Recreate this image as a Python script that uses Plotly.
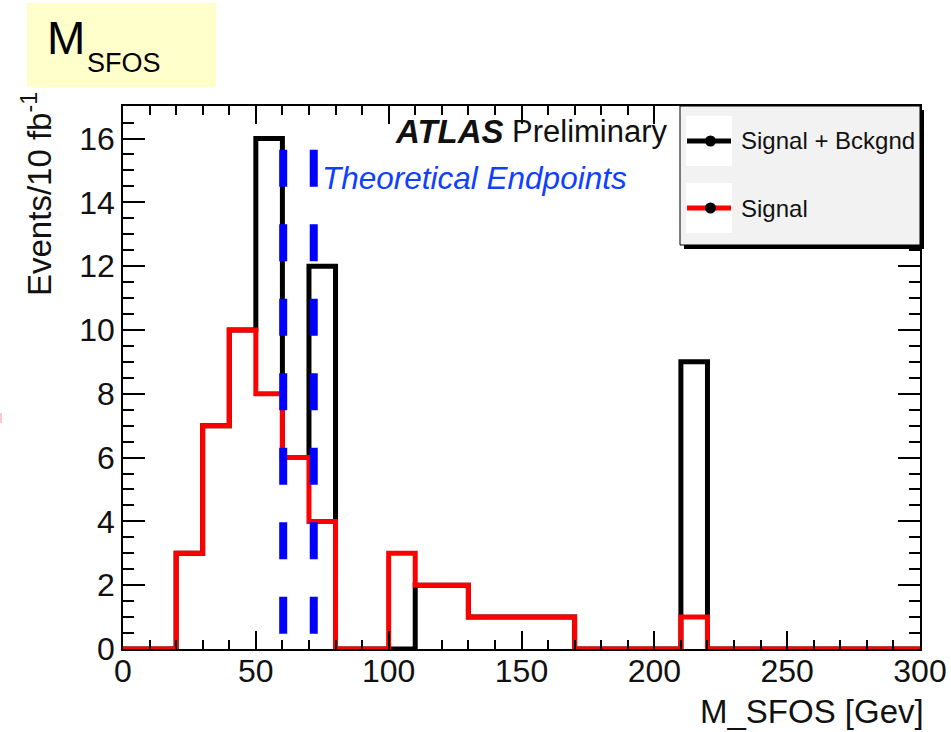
import plotly.graph_objects as go

# ---------------- data ----------------
bin_edges = list(range(0, 310, 10))
signal_bkg = [0, 0, 3, 7, 10, 16, 6, 12, 0, 0, 0, 2, 2, 1, 1, 1, 1, 0, 0, 0,
              0, 9, 0, 0, 0, 0, 0, 0, 0, 0]
signal = [0, 0, 3, 7, 10, 8, 6, 4, 0, 0, 3, 2, 2, 1, 1, 1, 1, 0, 0, 0,
          0, 1, 0, 0, 0, 0, 0, 0, 0, 0]
endpoints = [60.3, 71.8]
endpoint_top = 15.65
x_ticks = [0, 50, 100, 150, 200, 250, 300]
y_ticks = [0, 2, 4, 6, 8, 10, 12, 14, 16]
series_names = ["Signal + Bckgnd", "Signal"]

# ---------------- layout geometry ----------------
W, H = 951, 732
L, R, T, B = 123, 920, 106, 649
FONT = "Liberation Sans, Arial, Helvetica, sans-serif"


def px(x):
    return (x - L) / (R - L)


def py(y):
    return (B - y) / (B - T)


fig = go.Figure()

# histograms (step outlines)
fig.add_trace(go.Scatter(
    x=bin_edges, y=signal_bkg + [signal_bkg[-1]], mode="lines",
    line=dict(color="black", width=5, shape="hv"), name=series_names[0],
    showlegend=False, hoverinfo="skip"))
fig.add_trace(go.Scatter(
    x=bin_edges, y=signal + [signal[-1]], mode="lines",
    line=dict(color="#ff0000", width=5, shape="hv"), name=series_names[1],
    showlegend=False, hoverinfo="skip"))

# theoretical endpoints (dashed blue)
for e in endpoints:
    fig.add_trace(go.Scatter(
        x=[e, e], y=[endpoint_top, 0], mode="lines",
        line=dict(color="#0000ff", width=8, dash="37px,37.5px"),
        showlegend=False, hoverinfo="skip"))

shapes = []
annotations = []

# title box
shapes.append(dict(type="rect", xref="paper", yref="paper",
                   x0=px(27), x1=px(216), y0=py(3), y1=py(87),
                   fillcolor="#ffffcc", line=dict(width=0), layer="below"))
annotations.append(dict(text="M", xref="paper", yref="paper", x=px(45), y=py(38.5),
                        xanchor="left", yanchor="middle", showarrow=False,
                        font=dict(family=FONT, size=46, color="black")))
annotations.append(dict(text="SFOS", xref="paper", yref="paper", x=px(85), y=py(63),
                        xanchor="left", yanchor="middle", showarrow=False,
                        font=dict(family=FONT, size=27, color="black")))

# small pink mark at far left
shapes.append(dict(type="rect", xref="paper", yref="paper",
                   x0=px(0), x1=px(2), y0=py(423), y1=py(413),
                   fillcolor="#ffc8c8", line=dict(width=0)))

# legend box with shadow
shapes.append(dict(type="rect", xref="paper", yref="paper",
                   x0=px(684), x1=px(924), y0=py(249), y1=py(110),
                   fillcolor="black", line=dict(width=0)))
shapes.append(dict(type="rect", xref="paper", yref="paper",
                   x0=px(680), x1=px(920), y0=py(245), y1=py(106),
                   fillcolor="#f2f2f2", line=dict(color="black", width=1)))
legend_rows = [(141, "black"), (208, "#ff0000")]
for (yy, col), name in zip(legend_rows, series_names):
    shapes.append(dict(type="rect", xref="paper", yref="paper",
                       x0=px(686), x1=px(732), y0=py(yy + 25), y1=py(yy - 25),
                       fillcolor="white", line=dict(width=0)))
    shapes.append(dict(type="line", xref="paper", yref="paper",
                       x0=px(687), x1=px(731), y0=py(yy), y1=py(yy),
                       line=dict(color=col, width=5)))
    shapes.append(dict(type="circle", xref="paper", yref="paper",
                       x0=px(705), x1=px(716), y0=py(yy + 5.5), y1=py(yy - 5.5),
                       fillcolor="black", line=dict(width=0)))
    annotations.append(dict(text=name, xref="paper", yref="paper", x=px(739), y=py(yy),
                            xanchor="left", yanchor="middle", showarrow=False,
                            font=dict(family=FONT, size=24, color="#111")))

# ATLAS Preliminary
annotations.append(dict(text="<b><i>ATLAS</i></b>", xref="paper", yref="paper",
                        x=px(393), y=py(131), xanchor="left", yanchor="middle",
                        showarrow=False, font=dict(family=FONT, size=33, color="#111")))
annotations.append(dict(text="Preliminary", xref="paper", yref="paper",
                        x=px(510), y=py(131), xanchor="left", yanchor="middle",
                        showarrow=False, font=dict(family=FONT, size=31, color="#111")))
# Theoretical Endpoints
annotations.append(dict(text="<i>Theoretical Endpoints</i>", xref="paper", yref="paper",
                        x=px(320), y=py(178), xanchor="left", yanchor="middle",
                        showarrow=False, font=dict(family=FONT, size=31.5, color="#1040ff")))

# axis titles
annotations.append(dict(text="M_SFOS [Gev]", xref="paper", yref="paper",
                        x=px(926), y=py(711), xanchor="right", yanchor="middle",
                        showarrow=False, font=dict(family=FONT, size=33, color="#111")))
annotations.append(dict(text="Events/10 fb<sup>-1</sup>", xref="paper", yref="paper",
                        x=px(37), y=py(90), xanchor="center", yanchor="top",
                        textangle=-90, showarrow=False,
                        font=dict(family=FONT, size=33, color="#111")))

axis_common = dict(showgrid=False, zeroline=False, showline=True, linecolor="black",
                   linewidth=1.5, mirror="ticks", ticks="inside", tickcolor="black",
                   tickwidth=1.5, automargin=False,
                   tickfont=dict(family=FONT, size=32, color="#111"))

fig.update_layout(
    width=W, height=H,
    margin=dict(l=L, r=W - R, t=T, b=H - B, autoexpand=False),
    paper_bgcolor="white", plot_bgcolor="white",
    showlegend=False,
    shapes=shapes, annotations=annotations,
    xaxis=dict(range=[0, 300], tickvals=x_ticks, ticklen=18, ticklabelstandoff=-7,
               minor=dict(dtick=10, ticklen=9, ticks="inside", tickcolor="black",
                          tickwidth=1.5),
               **axis_common),
    yaxis=dict(range=[0, 17.02], tickvals=y_ticks, ticklen=22,
               minor=dict(dtick=0.5, ticklen=11, ticks="inside", tickcolor="black",
                          tickwidth=1.5),
               **axis_common),
)

fig.write_html("out.html")
